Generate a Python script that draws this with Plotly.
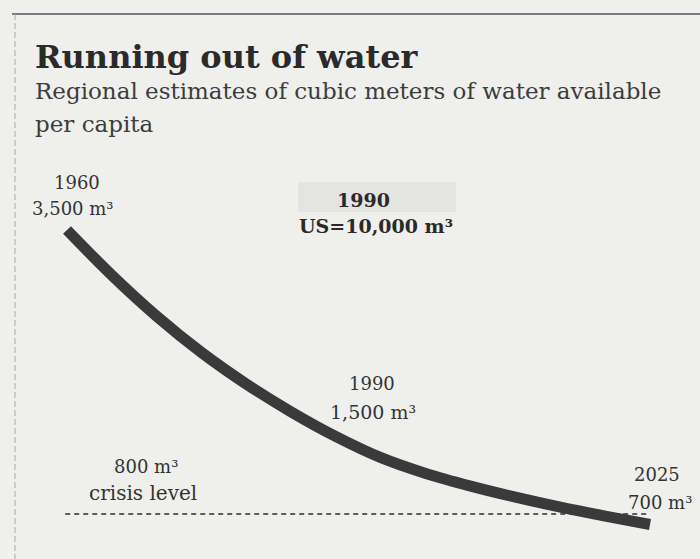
import plotly.graph_objects as go

# Data
years = [1960, 1965, 1970, 1975, 1980, 1985, 1990, 1995, 2000, 2005, 2010, 2015, 2020, 2025]
water_m3 = [3500, 3070, 2680, 2335, 2035, 1770, 1535, 1335, 1185, 1065, 960, 865, 780, 700]
crisis_years = [1959.8, 2025]
crisis_level = [800, 800]

W, H = 700, 559
BG = "#efefed"
INK = "#3a3a3a"
FONT = "DejaVu Serif"

# axis ranges chosen so the plot fills the page
x_range = [1952.53, 2030.57]
y_range = [372, 5686]

fig = go.Figure()
fig.add_trace(go.Scatter(x=crisis_years, y=crisis_level, mode="lines",
                         line=dict(color="#2e2e2e", width=1.6, dash="5px,4px"),
                         hoverinfo="skip", showlegend=False))
fig.add_trace(go.Scatter(x=years, y=water_m3, mode="lines",
                         line=dict(color=INK, width=11, shape="spline", smoothing=1.0),
                         hoverinfo="skip", showlegend=False))

def px(x):
    return x / W

def py(y):
    return 1 - y / H

annots = [
    dict(text="<b>Running out of water</b>", x=33, y=57, size=32, xanchor="left", color="#2a2a2a"),
    dict(text="Regional estimates of cubic meters of water available", x=33, y=91, size=23, xanchor="left", color="#3c3c3c"),
    dict(text="per capita", x=33, y=124, size=23, xanchor="left", color="#3c3c3c"),
    dict(text="1960", x=77, y=182, size=18, xanchor="center", color="#333333"),
    dict(text="3,500 m³", x=73, y=208, size=18, xanchor="center", color="#333333"),
    dict(text="<b>1990</b>", x=363, y=200, size=19, xanchor="center", color="#2a2a2a"),
    dict(text="<b>US=10,000 m³</b>", x=376, y=226, size=19, xanchor="center", color="#2a2a2a"),
    dict(text="1990", x=372, y=384, size=18, xanchor="center", color="#333333"),
    dict(text="1,500 m³", x=373, y=412, size=19, xanchor="center", color="#333333"),
    dict(text="800 m³", x=146, y=466, size=18, xanchor="center", color="#333333"),
    dict(text="crisis level", x=143, y=493, size=20, xanchor="center", color="#333333"),
    dict(text="2025", x=657, y=474, size=18, xanchor="center", color="#333333"),
    dict(text="700 m³", x=660, y=502, size=18, xanchor="center", color="#333333"),
]
annotations = []
for a in annots:
    annotations.append(dict(
        text=a["text"], x=px(a["x"]), y=py(a["y"]), xref="paper", yref="paper",
        xanchor=a["xanchor"], yanchor="middle", showarrow=False,
        font=dict(family=FONT, size=a["size"], color=a["color"])))

shapes = [
    # faint patch behind the bold 1990 label
    dict(type="rect", xref="paper", yref="paper", x0=px(298), x1=px(456), y0=py(212), y1=py(182),
         fillcolor="rgba(0,0,0,0.045)", line=dict(width=0), layer="below"),
    # top rule
    dict(type="line", xref="paper", yref="paper", x0=px(12), x1=1, y0=py(14), y1=py(14),
         line=dict(color="#555555", width=1.5)),
    # left rule
    dict(type="line", xref="paper", yref="paper", x0=px(15), x1=px(15), y0=py(14), y1=0,
         line=dict(color="#a8a8a8", width=1, dash="6px,3px")),
]

fig.update_layout(
    width=W, height=H,
    margin=dict(l=0, r=0, t=0, b=0),
    paper_bgcolor=BG, plot_bgcolor=BG,
    xaxis=dict(range=x_range, visible=False, fixedrange=True),
    yaxis=dict(range=y_range, visible=False, fixedrange=True),
    annotations=annotations,
    shapes=shapes,
    showlegend=False,
)

fig.write_html("out.html", config={"displayModeBar": False},
               post_script="document.body.style.margin='0';")
